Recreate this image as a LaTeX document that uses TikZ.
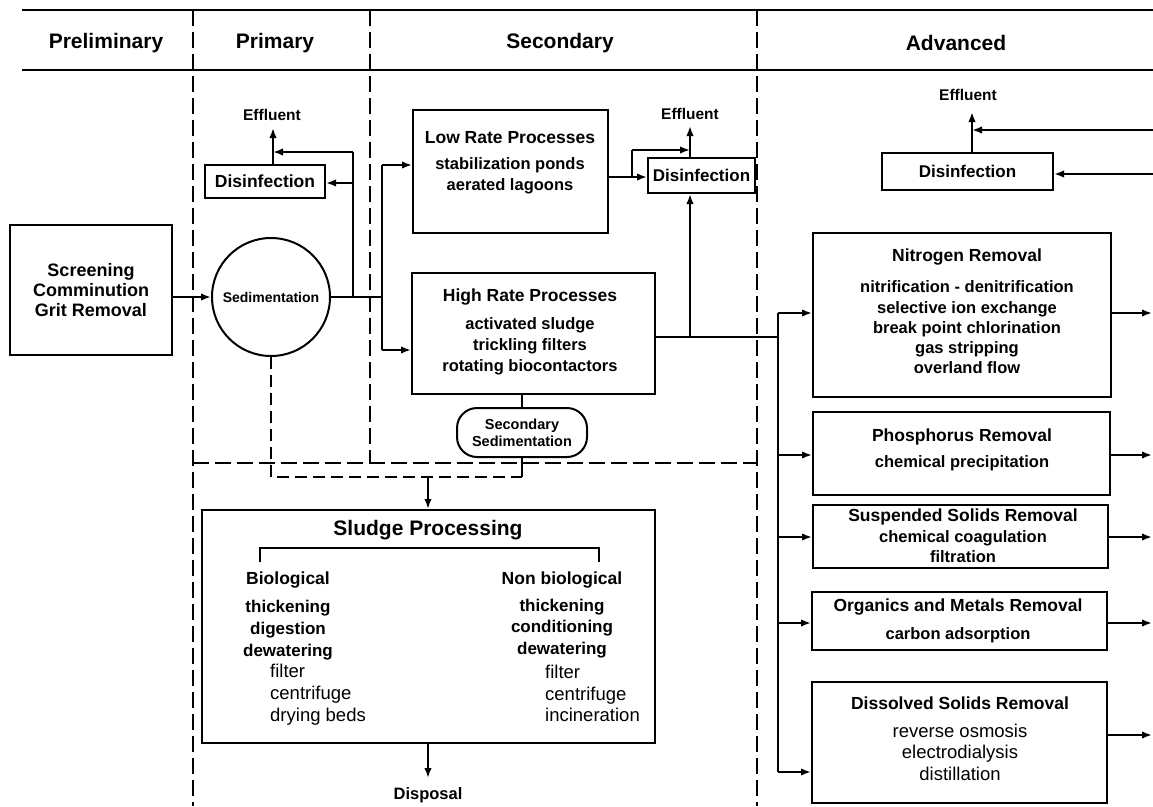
\documentclass[tikz,border=0pt]{standalone}
\usepackage{fontspec}
\setmainfont{Liberation Sans}
\usetikzlibrary{arrows.meta}
\begin{document}
\begin{tikzpicture}[x=1pt,y=-1pt,
 box/.style={draw, line width=2pt, inner sep=0pt},
 conn/.style={line width=2.1pt},
 arr/.style={conn, -{Latex[length=10pt,width=7.5pt]}},
 divline/.style={line width=1.3pt, dash pattern=on 16pt off 6pt},
 sludgeline/.style={line width=2.3pt, dash pattern=on 12pt off 6pt},
 rule/.style={line width=2.4pt},
 hdr/.style={font=\bfseries\fontsize{21}{24}\selectfont, inner sep=0pt},
 ttl/.style={font=\bfseries\fontsize{17.5}{20}\selectfont, inner sep=0pt},
 itb/.style={font=\bfseries\fontsize{16.5}{20.5}\selectfont, align=center, inner sep=0pt},
 itr/.style={font=\fontsize{18.5}{21.5}\selectfont, align=center, inner sep=0pt},
 lbl/.style={font=\bfseries\fontsize{15.5}{18}\selectfont, inner sep=0pt}
]
\useasboundingbox (0,0) rectangle (1153,806);

% header rules and labels
\draw[rule] (22,10) -- (1153,10);
\draw[rule] (22,70) -- (1153,70);
\node[hdr] (hPre) at (106,43) {Preliminary};
\node[hdr] (hPri) at (275,43) {Primary};
\node[hdr] (hSec) at (560,43) {Secondary};
\node[hdr] (hAdv) at (956,43) {Advanced};

% stage dividers
\draw[divline] (193,10) -- (193,806);
\draw[divline] (370,10) -- (370,463);
\draw[divline] (757,10) -- (757,806);
\draw[divline] (193,463) -- (757,463);

% ---------- Preliminary ----------
\node[box, minimum width=162pt, minimum height=130pt, align=center,
      font=\bfseries\fontsize{18}{20}\selectfont] (pre) at (91,290)
      {Screening\\Comminution\\Grit Removal};

% ---------- Primary ----------
\node[draw, circle, line width=2pt, minimum size=118pt, inner sep=0pt,
      font=\bfseries\fontsize{14}{16}\selectfont] (sed) at (271,297) {Sedimentation};
\node[box, minimum width=120pt, minimum height=33pt,
      font=\bfseries\fontsize{17.5}{20}\selectfont] (disP) at (265,181.5) {Disinfection};
\node[lbl] (effP) at (272,115) {Effluent};

% ---------- Secondary ----------
\node[box, minimum width=195pt, minimum height=123pt] (low) at (510.5,171.5) {};
\node[ttl] (lowT) at (510,138) {Low Rate Processes};
\node[itb] (lowL) at (510,176) {stabilization ponds\\aerated lagoons};

\node[box, minimum width=243pt, minimum height=121pt] (high) at (533.5,333.5) {};
\node[ttl] (highT) at (530,297) {High Rate Processes};
\node[itb, font=\bfseries\fontsize{16.5}{21}\selectfont] (highL) at (530,346)
      {activated sludge\\trickling filters\\rotating biocontactors};

\node[box, minimum width=107pt, minimum height=35pt,
      font=\bfseries\fontsize{17}{20}\selectfont] (disS) at (701.5,175.5) {Disinfection};
\node[lbl] (effS) at (690,114) {Effluent};

\node[box, rounded corners=20pt, minimum width=130pt, minimum height=49pt, align=center,
      font=\bfseries\fontsize{14.5}{17}\selectfont] (secsed) at (522,432.5)
      {Secondary\\Sedimentation};

% ---------- Sludge ----------
\node[box, minimum width=453pt, minimum height=233pt] (sludge) at (428.5,626.5) {};
\node[font=\bfseries\fontsize{21}{24}\selectfont, inner sep=0pt] (sludgeT) at (428,530) {Sludge Processing};
\draw[conn] (260,562) -- (260,548) -- (599,548) -- (599,562);
\node[ttl] (bioT) at (288,580) {Biological};
\node[itb, font=\bfseries\fontsize{17}{22}\selectfont] (bioL) at (288,630) {thickening\\digestion\\dewatering};
\node[itr, align=left, anchor=west, font=\fontsize{18.5}{22}\selectfont] (bioS) at (270,695) {filter\\centrifuge\\drying beds};
\node[ttl] (nbioT) at (562,580) {Non biological};
\node[itb, font=\bfseries\fontsize{17}{21.5}\selectfont] (nbioL) at (562,628.5) {thickening\\conditioning\\dewatering};
\node[itr, align=left, anchor=west, font=\fontsize{18.5}{21.5}\selectfont] (nbioS) at (545,693.5) {filter\\centrifuge\\incineration};
\node[font=\bfseries\fontsize{16.5}{18}\selectfont, inner sep=0pt] (disp) at (428,795) {Disposal};

% ---------- Advanced ----------
\node[box, minimum width=171pt, minimum height=37pt,
      font=\bfseries\fontsize{17}{20}\selectfont] (disA) at (967.5,171.5) {Disinfection};
\node[lbl] (effA) at (968,95) {Effluent};

\node[box, minimum width=298pt, minimum height=164pt] (nit) at (962,315) {};
\node[ttl] (nitT) at (967,257) {Nitrogen Removal};
\node[itb, font=\bfseries\fontsize{16.5}{20.25}\selectfont] (nitL) at (967,327.5)
  {nitrification - denitrification\\selective ion exchange\\break point chlorination\\gas stripping\\overland flow};

\node[box, minimum width=297pt, minimum height=83pt] (pho) at (961.5,453.5) {};
\node[ttl] (phoT) at (962,437) {Phosphorus Removal};
\node[itb] (phoL) at (962,463) {chemical precipitation};

\node[box, minimum width=295pt, minimum height=63pt] (sus) at (960.5,536.5) {};
\node[ttl] (susT) at (963,517) {Suspended Solids Removal};
\node[itb, font=\bfseries\fontsize{16.5}{20}\selectfont] (susL) at (963,547) {chemical coagulation\\filtration};

\node[box, minimum width=295pt, minimum height=58pt] (org) at (959.5,621) {};
\node[ttl] (orgT) at (958,607) {Organics and Metals Removal};
\node[itb] (orgL) at (958,635) {carbon adsorption};

\node[box, minimum width=295pt, minimum height=121pt] (dis) at (959.5,742.5) {};
\node[ttl] (disT) at (960,703) {Dissolved Solids Removal};
\node[itr] (disL) at (960,752) {reverse osmosis\\electrodialysis\\distillation};

% ---------- connectors: primary ----------
\draw[arr] (pre.east |- sed) -- (sed.west);
\coordinate (busJ) at (382,297);
\draw[conn] (sed.east) -- (busJ);
\coordinate (j1) at (353,297);
\coordinate (j1top) at (353,152);
\coordinate (pEffB) at (273,165);
\coordinate (pEffT) at (273,128);
\coordinate (j2) at (353,183);
\draw[conn] (j1) -- (j1top);
\draw[arr] (j1top) -- (j1top -| pEffB);
\draw[arr] (j2) -- (j2 -| disP.east);
\draw[arr] (pEffB) -- (pEffT);

% ---------- connectors: secondary ----------
\coordinate (busT) at (382,165);
\coordinate (busB) at (382,350);
\draw[conn] (busT) -- (busB);
\draw[arr] (busT) -- (busT -| low.west);
\draw[arr] (busB) -- (busB -| high.west);

\coordinate (lr) at (632,177);
\coordinate (lrT) at (632,150);
\coordinate (sEffX) at (690,150);
\coordinate (sEffB) at (690,158);
\coordinate (sEffT) at (690,126);
\draw[conn] (low.east |- lr) -- (lr);
\draw[arr] (lr) -- (lr -| disS.west);
\draw[conn] (lr) -- (lrT);
\draw[arr] (lrT) -- (sEffX);
\draw[arr] (sEffB) -- (sEffT);

\coordinate (hr1) at (690,337);
\coordinate (busA) at (778,337);
\draw[conn] (high.east |- hr1) -- (busA);
\draw[arr] (hr1) -- (hr1 |- disS.south);
\draw[conn] (secsed.north) -- (secsed.north |- high.south);

% ---------- connectors: sludge ----------
\coordinate (sl1) at (271,477);
\coordinate (sl2) at (522,477);
\coordinate (sl3) at (428,477);
\coordinate (dispT) at (428,778);
\draw[sludgeline] (sed.south) -- (sl1) -- (sl2);
\draw[conn] (sl2) -- (secsed.south);
\draw[arr] (sl3) -- (sl3 |- sludge.north);
\draw[arr] (sludge.south -| dispT) -- (dispT);

% ---------- connectors: advanced ----------
\coordinate (aEffB) at (972,153);
\coordinate (aEffT) at (972,112);
\coordinate (aIn1) at (1153,130);
\coordinate (aIn2) at (1153,174);
\draw[arr] (aEffB) -- (aEffT);
\draw[arr] (aIn1) -- (aIn1 -| aEffB);
\draw[arr] (aIn2) -- (aIn2 -| disA.east);

\coordinate (busAT) at (778,313);
\coordinate (busAB) at (778,772);
\coordinate (b2) at (778,455);
\coordinate (b3) at (778,537);
\coordinate (b4) at (778,623);
\draw[conn] (busAT) -- (busAB);
\draw[arr] (busAT) -- (busAT -| nit.west);
\draw[arr] (b2) -- (b2 -| pho.west);
\draw[arr] (b3) -- (b3 -| sus.west);
\draw[arr] (b4) -- (b4 -| org.west);
\draw[arr] (busAB) -- (busAB -| dis.west);

\coordinate (o1) at (1152,313);
\coordinate (o2) at (1152,455);
\coordinate (o3) at (1152,537);
\coordinate (o4) at (1152,623);
\coordinate (o5) at (1152,735);
\draw[arr] (nit.east |- o1) -- (o1);
\draw[arr] (pho.east |- o2) -- (o2);
\draw[arr] (sus.east |- o3) -- (o3);
\draw[arr] (org.east |- o4) -- (o4);
\draw[arr] (dis.east |- o5) -- (o5);
\end{tikzpicture}
\end{document}
